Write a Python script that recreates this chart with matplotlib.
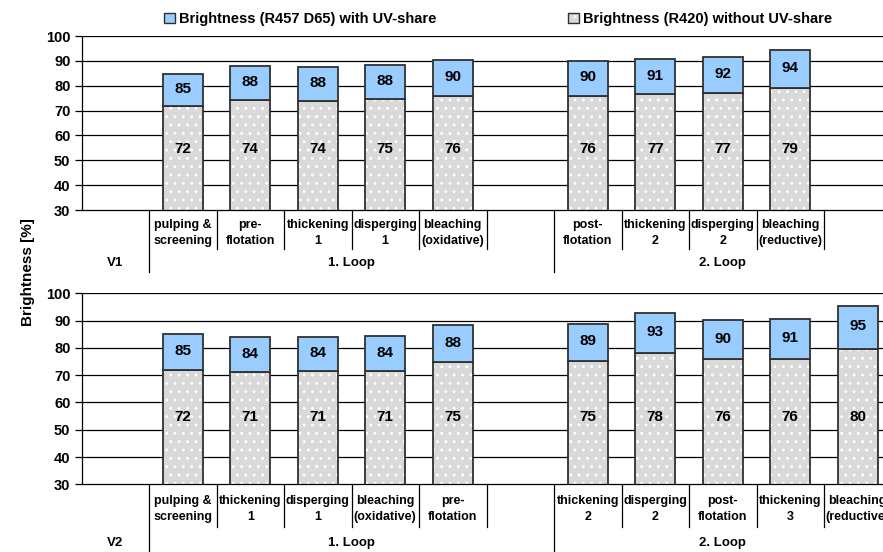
import numpy as np
import matplotlib.pyplot as plt
from matplotlib.patches import Patch

plt.rcParams['font.family'] = ['Liberation Sans', 'DejaVu Sans']
plt.rcParams['font.weight'] = 'bold'
plt.rcParams['hatch.linewidth'] = 0.9

nan = np.nan

# V1 - upper panel
v1_cats = ['', 'pulping &\nscreening', 'pre-\nflotation', 'thickening\n1', 'disperging\n1',
           'bleaching\n(oxidative)', '', 'post-\nflotation', 'thickening\n2', 'disperging\n2',
           'bleaching\n(reductive)', '']
v1_r420 = [nan, 71.8, 74.3, 73.9, 74.7, 75.8, nan, 76.0, 76.6, 77.0, 78.9, nan]
v1_r457 = [nan, 84.7, 88.0, 87.6, 88.2, 90.2, nan, 90.0, 90.6, 91.6, 94.3, nan]
v1_groups = [('V1', 0, 0), ('1. Loop', 1, 6), ('2. Loop', 7, 11)]

# V2 - lower panel
v2_cats = ['', 'pulping &\nscreening', 'thickening\n1', 'disperging\n1', 'bleaching\n(oxidative)',
           'pre-\nflotation', '', 'thickening\n2', 'disperging\n2', 'post-\nflotation',
           'thickening\n3', 'bleaching\n(reductive)']
v2_r420 = [nan, 71.9, 71.1, 71.4, 71.4, 74.7, nan, 75.2, 78.0, 75.9, 75.9, 79.5]
v2_r457 = [nan, 85.0, 83.9, 84.1, 84.2, 88.4, nan, 88.9, 92.9, 90.1, 90.7, 95.4]
v2_groups = [('V2', 0, 0), ('1. Loop', 1, 6), ('2. Loop', 7, 11)]

yticks = [30, 40, 50, 60, 70, 80, 90, 100]

BLUE = '#99ccff'
GRAY = '#d9d9d9'
EDGE = '#303030'


def draw_panel(ax, cats, r420, r457, groups):
    x = np.arange(len(cats))
    r420 = np.array(r420)
    r457 = np.array(r457)
    ok = ~np.isnan(r420)
    w = 0.59

    ax.set_xlim(-0.5, len(cats) - 0.5)
    ax.set_ylim(30, 100)
    for y in yticks[1:]:
        ax.axhline(y, color='black', lw=0.9, zorder=0)

    # bottom segment (hatched gray)
    ax.bar(x[ok], r420[ok], w, color=GRAY, edgecolor='white', hatch='..', linewidth=0, zorder=2)
    ax.bar(x[ok], r420[ok], w, fill=False, edgecolor=EDGE, linewidth=1.3, zorder=3)
    # upper segment (UV share)
    ax.bar(x[ok], r457[ok] - r420[ok], w, bottom=r420[ok], color=BLUE,
           edgecolor=EDGE, linewidth=1.3, zorder=3)

    for xi, lo, hi in zip(x[ok], r420[ok], r457[ok]):
        ax.text(xi, (lo + hi) / 2 + 0.4, f'{hi:.0f}', ha='center', va='center',
                fontsize=11, fontweight='bold', zorder=4)
        ax.text(xi, 54.5, f'{lo:.0f}', ha='center', va='center',
                fontsize=11, fontweight='bold', zorder=4)

    ax.set_yticks(yticks)
    ax.set_xticks([])
    ax.tick_params(axis='y', direction='out', length=5, width=0.9, labelsize=10.5, pad=3)
    for lab in ax.get_yticklabels():
        lab.set_fontweight('bold')
    for s in ['top', 'right']:
        ax.spines[s].set_visible(False)
    ax.spines['left'].set_linewidth(0.9)
    ax.spines['bottom'].set_linewidth(0.9)

    # category table under the axis
    long_edges = [g[1] for g in groups[1:]]
    for k in range(1, len(cats)):
        y_end = 5 if k in long_edges else 14.3
        ax.plot([k - 0.5, k - 0.5], [30, y_end], color='black', lw=0.9, clip_on=False)
    for xi, c in zip(x, cats):
        if c:
            ax.text(xi, 20.8, c, ha='center', va='center', fontsize=9,
                    fontweight='bold', linespacing=1.45, clip_on=False)
    for name, a, b in groups:
        ax.text((a + b) / 2, 8.5, name, ha='center', va='center', fontsize=9.5,
                fontweight='bold', clip_on=False)


fig = plt.figure(figsize=(8.83, 5.52), dpi=100)
W, H = 883, 552
left = 81.5 / W
width = 12 * 67.5 / W
ax1 = fig.add_axes([left, (H - 210) / H, width, (210 - 36) / H])
ax2 = fig.add_axes([left, (H - 484.3) / H, width, (484.3 - 293.3) / H])

draw_panel(ax1, v1_cats, v1_r420, v1_r457, v1_groups)
draw_panel(ax2, v2_cats, v2_r420, v2_r457, v2_groups)

fig.text(28 / W, 1 - 272 / H, 'Brightness [%]', rotation=90, ha='center', va='center',
         fontsize=11, fontweight='bold')

gray_handle = (Patch(facecolor=GRAY, edgecolor='white', hatch='..', linewidth=0),
               Patch(fill=False, edgecolor=EDGE, linewidth=1.0))
handles = [Patch(facecolor=BLUE, edgecolor=EDGE, linewidth=1.0), gray_handle]
labels = ['Brightness (R457 D65) with UV-share', 'Brightness (R420) without UV-share']
fig.legend(handles, labels, loc='center', bbox_to_anchor=(498 / W, 1 - 19 / H), ncol=2,
           frameon=False, handlelength=0.75, handleheight=0.75,
           handletextpad=0.3, columnspacing=9.0, prop={'weight': 'bold', 'size': 10.5})

fig.savefig('out.png', dpi=100)
